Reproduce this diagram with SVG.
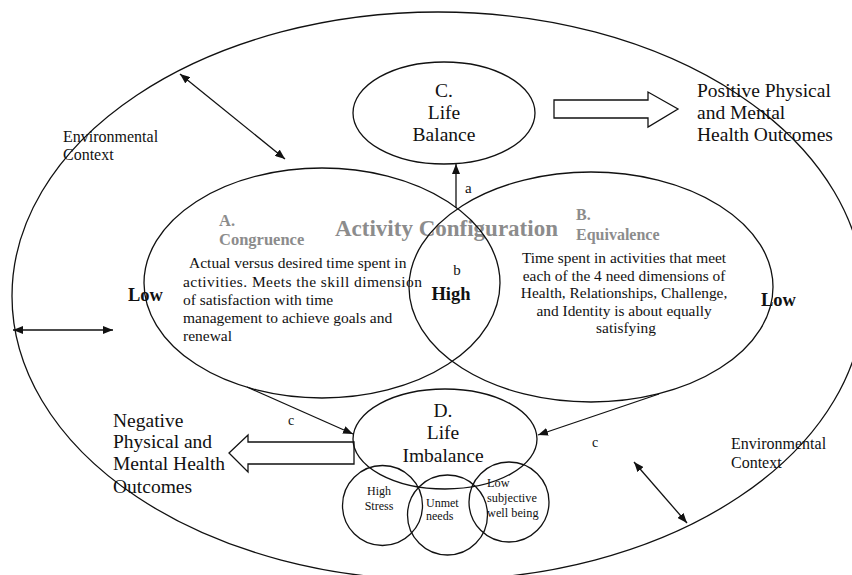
<svg xmlns="http://www.w3.org/2000/svg" width="852" height="575" viewBox="0 0 852 575">
<defs>
<style>
.ln{fill:none;stroke:#111;stroke-width:1.3}
.t{font-family:"Liberation Serif","Times New Roman",serif;fill:#111}
.g{font-family:"Liberation Serif","Times New Roman",serif;fill:#8c8c8c;font-weight:bold}
.b{font-weight:bold}
</style>
<marker id="ah" viewBox="0 0 10 8" refX="10" refY="4" markerWidth="10" markerHeight="8" markerUnits="userSpaceOnUse" orient="auto-start-reverse">
<path d="M0,0 L10,4 L0,8 z" fill="#111"/>
</marker>
</defs>
<rect width="852" height="575" fill="#fff"/>

<g id="environment">
<ellipse class="ln" cx="438" cy="296" rx="426" ry="284"/>
<text class="t" font-size="16"><tspan x="63" y="142">Environmental</tspan><tspan x="63" y="160">Context</tspan></text>
<text class="t" font-size="16"><tspan x="731" y="449">Environmental</tspan><tspan x="731" y="468">Context</tspan></text>
</g>

<g id="activity-configuration">
<text class="g" font-size="23" x="335" y="236" fill="#999">Activity Configuration</text>
</g>

<g id="congruence">
<ellipse class="ln" cx="322" cy="283" rx="178" ry="115"/>
<text class="g" font-size="16.5" x="219" y="226">A.</text>
<text class="g" font-size="16.5" x="219" y="245">Congruence</text>
<text class="t" font-size="15.5">
<tspan x="189" y="268">Actual versus desired time spent in</tspan>
<tspan x="183" y="287" textLength="239" lengthAdjust="spacing">activities. Meets the skill dimension</tspan>
<tspan x="183" y="305">of satisfaction with time</tspan>
<tspan x="183" y="323">management to achieve goals and</tspan>
<tspan x="183" y="341">renewal</tspan>
</text>
<text class="t b" font-size="18.5" x="128" y="301">Low</text>
</g>

<g id="equivalence">
<ellipse class="ln" cx="591" cy="287" rx="182" ry="115"/>
<text class="g" font-size="16" x="576" y="220">B.</text>
<text class="g" font-size="16" x="576" y="240">Equivalence</text>
<text class="t" font-size="15.4" text-anchor="middle">
<tspan x="626" y="263">Time spent in activities that meet</tspan>
<tspan x="626" y="281">each of the 4 need dimensions of</tspan>
<tspan x="626" y="298">Health, Relationships, Challenge,</tspan>
<tspan x="626" y="316">and Identity is about equally</tspan>
<tspan x="626" y="333">satisfying</tspan>
</text>
<text class="t b" font-size="18.5" x="761" y="306">Low</text>
</g>

<g id="overlap">
<text class="t" font-size="15" x="457" y="275" text-anchor="middle">b</text>
<text class="t b" font-size="18.5" x="451" y="300" text-anchor="middle">High</text>
</g>

<g id="life-balance">
<ellipse class="ln" cx="444" cy="113" rx="91" ry="51"/>
<text class="t" font-size="19.5" text-anchor="middle"><tspan x="444" y="97">C.</tspan><tspan x="444" y="119">Life</tspan><tspan x="444" y="141">Balance</tspan></text>
</g>

<g id="positive-outcomes">
<text class="t" font-size="19.5"><tspan x="697" y="97">Positive Physical</tspan><tspan x="697" y="119">and Mental</tspan><tspan x="697" y="141">Health Outcomes</tspan></text>
</g>

<g id="life-imbalance">
<ellipse class="ln" cx="445" cy="439" rx="92" ry="50"/>
<text class="t" font-size="19.5" text-anchor="middle"><tspan x="443" y="417">D.</tspan><tspan x="443" y="439">Life</tspan><tspan x="443" y="462">Imbalance</tspan></text>
</g>

<g id="high-stress">
<circle class="ln" cx="382.5" cy="505.5" r="40"/>
<text class="t" font-size="12" text-anchor="middle"><tspan x="379" y="495">High</tspan><tspan x="379" y="510">Stress</tspan></text>
</g>

<g id="unmet-needs">
<circle class="ln" cx="447.5" cy="515" r="40"/>
<text class="t" font-size="12"><tspan x="426" y="507">Unmet</tspan><tspan x="426" y="520">needs</tspan></text>
</g>

<g id="low-wellbeing">
<circle class="ln" cx="509" cy="502" r="40"/>
<text class="t" font-size="12.3"><tspan x="487" y="487">Low</tspan><tspan x="487" y="502">subjective</tspan><tspan x="487" y="517">well being</tspan></text>
</g>

<g id="negative-outcomes">
<text class="t" font-size="19.5"><tspan x="113" y="427">Negative</tspan><tspan x="113" y="448">Physical and</tspan><tspan x="113" y="470">Mental Health</tspan><tspan x="113" y="493">Outcomes</tspan></text>
</g>

<g id="connectors">
<line class="ln" x1="456" y1="208" x2="456" y2="164" marker-end="url(#ah)"/>
<text class="t" font-size="15" x="465" y="193">a</text>
<line class="ln" x1="247" y1="387" x2="353" y2="434" marker-end="url(#ah)"/>
<text class="t" font-size="14" x="288" y="425">c</text>
<line class="ln" x1="659" y1="394" x2="538" y2="435" marker-end="url(#ah)"/>
<text class="t" font-size="14" x="592" y="447">c</text>
<line class="ln" x1="180" y1="74" x2="285" y2="159" marker-start="url(#ah)" marker-end="url(#ah)"/>
<line class="ln" x1="13" y1="330" x2="113" y2="330" marker-start="url(#ah)" marker-end="url(#ah)"/>
<line class="ln" x1="634" y1="462" x2="687" y2="523" marker-start="url(#ah)" marker-end="url(#ah)"/>
<polygon class="ln" fill="#fff" points="554,100 648,100 648,92 678,109 648,127 648,118 554,118"/>
<polygon class="ln" fill="#fff" points="354,442 248,442 248,435 229,453 248,472 248,464 354,464"/>
</g>
</svg>
